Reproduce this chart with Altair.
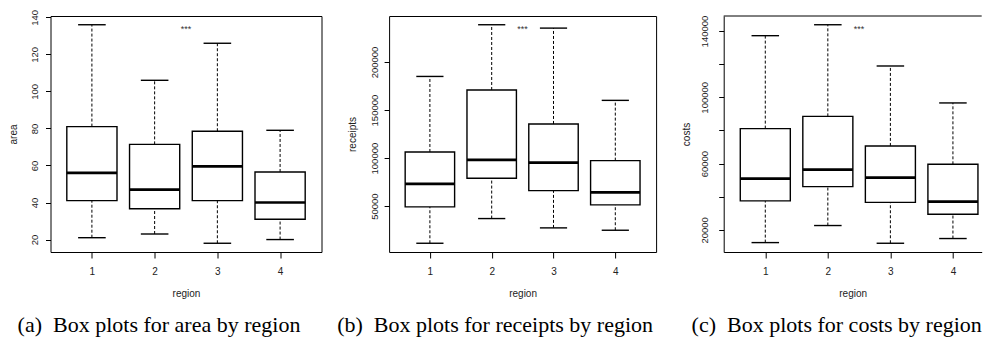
import altair as alt
import pandas as pd

# ---------------- data ----------------
regions = [1, 2, 3, 4]

area_lo = [21, 23, 18, 20]
area_q1 = [41, 36.6, 41, 31]
area_med = [56, 47, 59.5, 40]
area_q3 = [81, 71.4, 78.5, 56.5]
area_hi = [136, 106, 126, 79]

receipts_lo = [11400, 37100, 27400, 24950]
receipts_q1 = [49300, 79000, 66200, 51350]
receipts_med = [73200, 98100, 95300, 64450]
receipts_q3 = [106400, 170900, 135550, 97400]
receipts_hi = [185000, 238800, 235300, 160100]

costs_lo = [12300, 22600, 11900, 14750]
costs_q1 = [37500, 46100, 36600, 29400]
costs_med = [50900, 56400, 51500, 37050]
costs_q3 = [81100, 88500, 70650, 59550]
costs_hi = [137200, 143800, 118900, 96600]

area_ticks = [20, 40, 60, 80, 100, 120, 140]
receipts_ticks = [50000, 100000, 150000, 200000]
costs_ticks = [20000, 40000, 60000, 80000, 100000, 120000, 140000]

captions = [
    "(a)\u2002Box plots for area by region",
    "(b)\u2002Box plots for receipts by region",
    "(c)\u2002Box plots for costs by region",
]
star_label = "***"

TXT = "#222222"
H = 236


def panel(ytitle, lo, q1, med, q3, hi, yticks, width, xdomain, caption,
          caption_dx, label_pad, label_expr=None, framed=True):
    df = pd.DataFrame({"region": regions, "lo": lo, "q1": q1, "med": med,
                       "q3": q3, "hi": hi})
    ymin, ymax = min(lo), max(hi)
    ext = 0.04 * (ymax - ymin)
    xscale = alt.Scale(domain=xdomain, nice=False, zero=False)
    yscale = alt.Scale(domain=[ymin - ext, ymax + ext], nice=False, zero=False)

    common = dict(grid=False, labelFont="Liberation Sans", labelColor=TXT,
                  tickColor="black", tickWidth=1, titleFont="Liberation Sans",
                  titleFontSize=10, titleFontWeight="normal", titleColor=TXT,
                  domain=not framed, domainColor="black", domainWidth=1)
    xaxis = alt.Axis(values=regions, format="d", title="region",
                     labelPadding=8, tickSize=6, titleY=44,
                     titleBaseline="alphabetic", labelFontSize=10, **common)
    yargs = dict(values=yticks, format="d", title=ytitle, labelAngle=270,
                 labelAlign="center", labelBaseline="bottom",
                 labelPadding=label_pad, tickSize=5, titleX=-37,
                 titleY=H / 2, titleAngle=270, titleAlign="center",
                 titleBaseline="middle", labelFontSize=9.5, **common)
    if label_expr:
        yargs["labelExpr"] = label_expr
    yaxis = alt.Axis(**yargs)

    def X(f):
        return alt.X(f, type="quantitative", scale=xscale, axis=xaxis, title="region")

    def Y(f):
        return alt.Y(f, type="quantitative", scale=yscale, axis=yaxis, title=ytitle)

    base = alt.Chart(df).transform_calculate(
        bx0="datum.region - 0.4", bx1="datum.region + 0.4",
        sx0="datum.region - 0.22", sx1="datum.region + 0.22")

    w_up = base.mark_rule(color="black", strokeWidth=1, strokeDash=[3, 2]).encode(
        x=X("region"), y=Y("q3"), y2="hi")
    w_lo = base.mark_rule(color="black", strokeWidth=1, strokeDash=[3, 2]).encode(
        x=X("region"), y=Y("lo"), y2="q1")
    s_up = base.mark_rule(color="black", strokeWidth=1.4).encode(
        x=X("sx0"), x2="sx1", y=Y("hi"))
    s_lo = base.mark_rule(color="black", strokeWidth=1.4).encode(
        x=X("sx0"), x2="sx1", y=Y("lo"))
    box = base.mark_rect(fill="white", stroke="black", strokeWidth=1.4).encode(
        x=X("bx0"), x2="bx1", y=Y("q1"), y2="q3")
    med_l = base.mark_rule(color="black", strokeWidth=2.7).encode(
        x=X("bx0"), x2="bx1", y=Y("med"))

    sdf = pd.DataFrame({"sx": [2.5], "sy": [ymax], "t": [star_label]})
    star = alt.Chart(sdf).mark_text(
        font="Liberation Sans", fontSize=9, color="#333333",
        baseline="middle", align="center", dy=4).encode(
        x=X("sx"), y=Y("sy"), text="t:N")

    layers = [w_up, w_lo, s_up, s_lo, box, med_l, star]
    props = dict(width=width, height=H,
                 title=alt.TitleParams(text=caption, orient="bottom",
                                       anchor="middle", frame="group",
                                       font="Liberation Serif", fontSize=22,
                                       fontWeight="normal", color="black",
                                       baseline="alphabetic", offset=34,
                                       dx=caption_dx))
    if framed:
        props["view"] = alt.ViewBackground(stroke="black", strokeWidth=1)
    else:
        topline = alt.Chart(pd.DataFrame({"k": [0]})).mark_rule(
            color="black", strokeWidth=1).encode(y=alt.value(0))
        layers.append(topline)
        props["view"] = alt.ViewBackground(stroke="transparent")
    return alt.layer(*layers).properties(**props)


pa = panel("area", area_lo, area_q1, area_med, area_q3, area_hi, area_ticks,
           271, [0.34, 4.66], captions[0], -27, 6)
pb = panel("receipts", receipts_lo, receipts_q1, receipts_med, receipts_q3,
           receipts_hi, receipts_ticks, 267, [0.34, 4.66], captions[1], -27.5, 4.5)
pc = panel("costs", costs_lo, costs_q1, costs_med, costs_q3, costs_hi,
           costs_ticks, 258, [0.335, 4.46], captions[2], -16, 9,
           label_expr="datum.value % 40000 == 20000 ? datum.label : ''",
           framed=False)

chart = alt.hconcat(pa, pb, pc, spacing=67.6, bounds="flush").properties(
    padding={"left": 7.5, "top": 8, "right": 0, "bottom": 0},
    background="white",
)

chart.save("out.html", embed_options={"renderer": "svg", "actions": False})
